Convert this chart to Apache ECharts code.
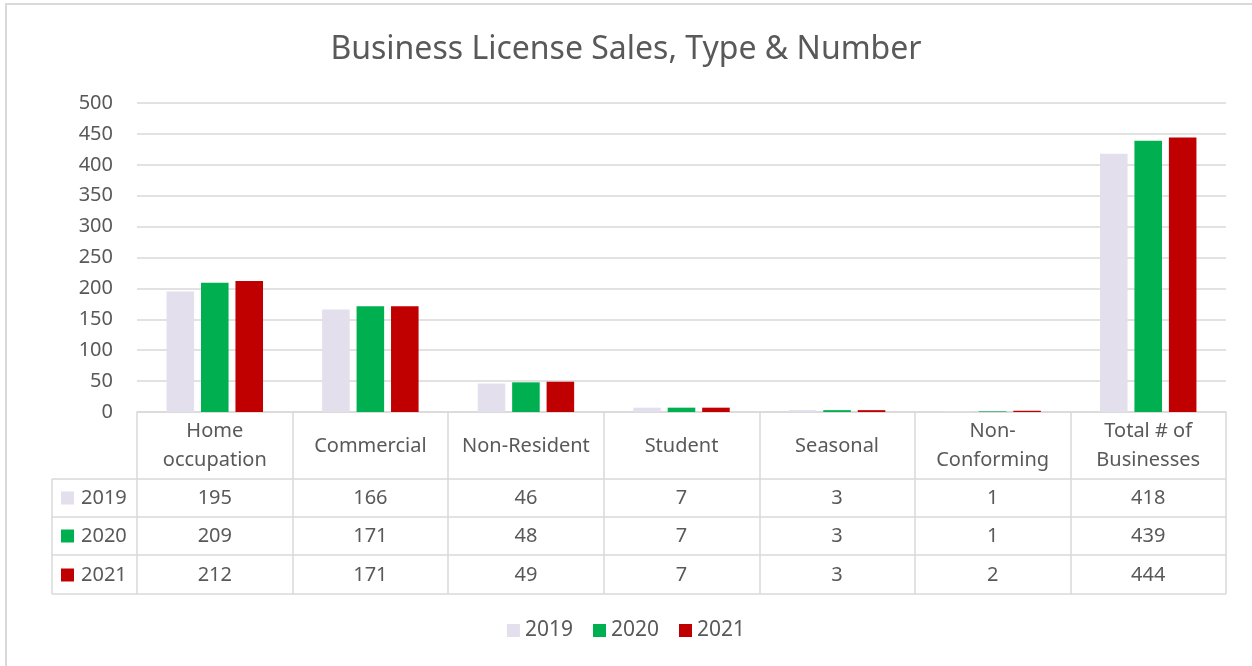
<!DOCTYPE html>
<html>
<head>
<meta charset="utf-8">
<script src="https://cdn.jsdelivr.net/npm/echarts@6/dist/echarts.min.js"></script>
<style>
  html, body { margin: 0; padding: 0; background: #fff; }
  #chart { width: 1252px; height: 666px; }
</style>
</head>
<body>
<div id="chart"></div>
<script>
// chart data
const categories = ['Home\noccupation', 'Commercial', 'Non-Resident', 'Student', 'Seasonal', 'Non-\nConforming', 'Total # of\nBusinesses']
const years = ['2019', '2020', '2021']
const data2019 = [195, 166, 46, 7, 3, 1, 418]
const data2020 = [209, 171, 48, 7, 3, 1, 439]
const data2021 = [212, 171, 49, 7, 3, 2, 444]
const colors = ['#E3DFEC', '#00B050', '#C00000']

const font = 'Noto Sans'
const textColor = '#595959'
const lineColor = '#D9D9D9'

const myChart = echarts.init(document.getElementById('chart'))

const option = {
  animation: false,
  textStyle: { fontFamily: font },
  title: {
    text: 'Business License Sales, Type & Number',
    left: 'center',
    top: 29,
    textStyle: { color: textColor, fontSize: 32, fontWeight: 'normal', fontFamily: font }
  },
  legend: {
    data: years,
    bottom: 20,
    left: 'center',
    icon: 'rect',
    itemWidth: 13,
    itemHeight: 13,
    itemGap: 20,
    textStyle: { color: textColor, fontSize: 21, fontFamily: font }
  },
  grid: {
    left: 137,
    right: 26,
    top: 103,
    bottom: 254
  },
  xAxis: {
    type: 'category',
    data: categories,
    axisLine: { lineStyle: { color: lineColor, width: 1.5 } },
    axisTick: { show: true, length: 182, interval: 0, lineStyle: { color: lineColor, width: 1.5 } },
    axisLabel: {
      interval: 0,
      margin: 34,
      verticalAlign: 'middle',
      lineHeight: 29,
      color: textColor,
      fontSize: 20,
      fontFamily: font
    }
  },
  yAxis: {
    type: 'value',
    min: 0,
    max: 500,
    interval: 50,
    axisLine: { show: false },
    axisTick: { show: false },
    axisLabel: { margin: 24, color: textColor, fontSize: 20, fontFamily: font },
    splitLine: { lineStyle: { color: lineColor, width: 1.5 } }
  },
  series: [
    {
      name: years[0],
      type: 'bar',
      data: data2019,
      barGap: '25%',
      barCategoryGap: '38%',
      itemStyle: { color: colors[0] }
    },
    {
      name: years[1],
      type: 'bar',
      data: data2020,
      barGap: '25%',
      barCategoryGap: '38%',
      itemStyle: { color: colors[1] }
    },
    {
      name: years[2],
      type: 'bar',
      data: data2021,
      barGap: '25%',
      barCategoryGap: '38%',
      itemStyle: { color: colors[2] }
    }
  ]
}
myChart.setOption(option)

// data table under the axis
const rowData = [data2019, data2020, data2021]
const rowCenters = [498, 536, 575]
const rowLines = [479, 517, 555, 594]
const tableLeft = 52
const tableRight = 1226
const graphics = []

// outer chart border (top & left visible in the reference)
graphics.push({
  type: 'rect',
  shape: { x: 6, y: 4, width: 1300, height: 720 },
  style: { fill: 'none', stroke: lineColor, lineWidth: 2 },
  silent: true
})

rowLines.forEach(function (y) {
  graphics.push({
    type: 'line',
    shape: { x1: tableLeft, y1: y, x2: tableRight, y2: y },
    style: { stroke: lineColor, lineWidth: 1.5 },
    silent: true
  })
})
graphics.push({
  type: 'line',
  shape: { x1: tableLeft, y1: rowLines[0], x2: tableLeft, y2: rowLines[3] },
  style: { stroke: lineColor, lineWidth: 1.5 },
  silent: true
})

rowData.forEach(function (vals, r) {
  const cy = rowCenters[r]
  graphics.push({
    type: 'rect',
    shape: { x: 61, y: cy - 6.5, width: 13, height: 13 },
    style: { fill: colors[r] },
    silent: true
  })
  graphics.push({
    type: 'text',
    x: 81,
    y: cy,
    style: { text: years[r], fill: textColor, font: '20px "' + font + '"', verticalAlign: 'middle', align: 'left' },
    silent: true
  })
  vals.forEach(function (v, i) {
    const px = myChart.convertToPixel({ xAxisIndex: 0 }, i)
    graphics.push({
      type: 'text',
      x: px,
      y: cy,
      style: { text: String(v), fill: textColor, font: '20px "' + font + '"', verticalAlign: 'middle', align: 'center' },
      silent: true
    })
  })
})

myChart.setOption({ graphic: graphics })
</script>
</body>
</html>
